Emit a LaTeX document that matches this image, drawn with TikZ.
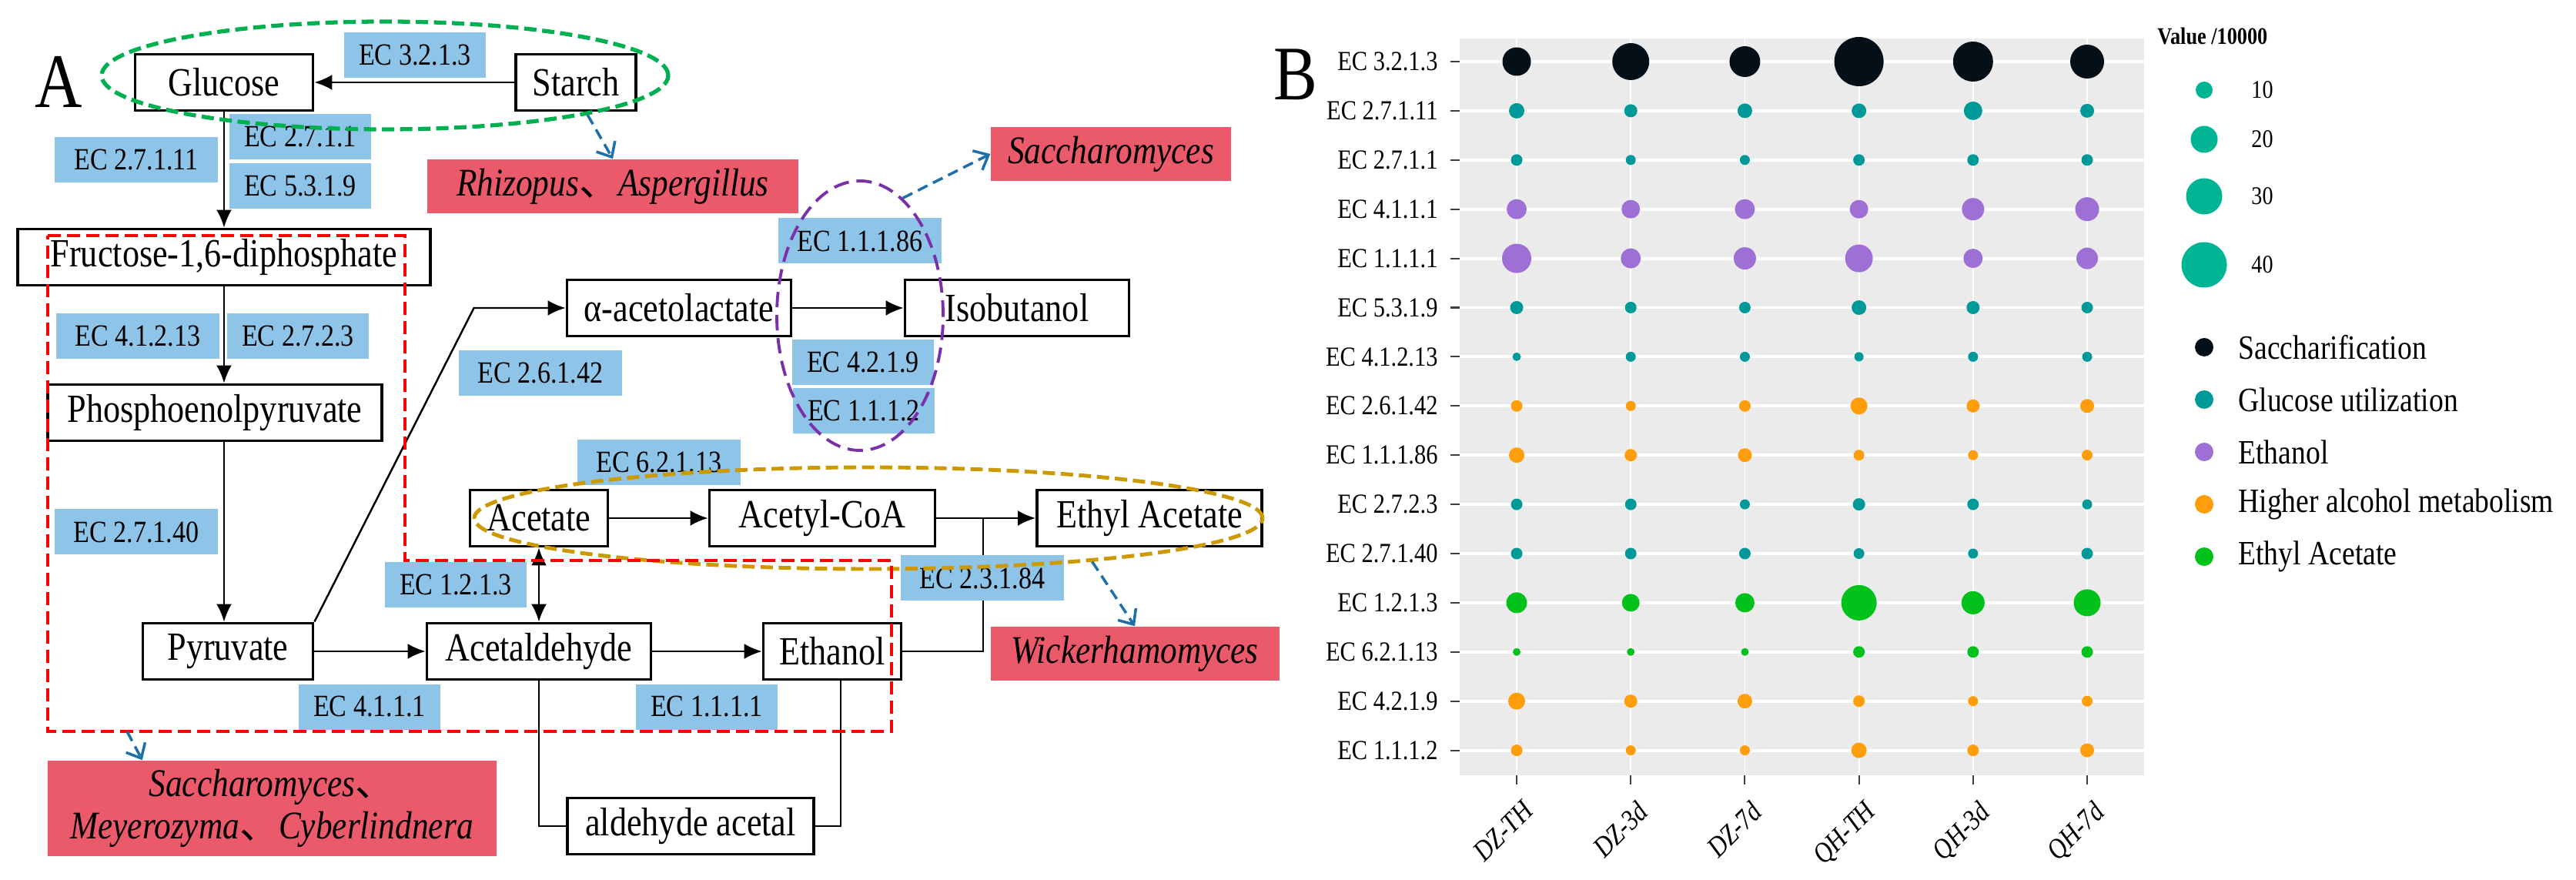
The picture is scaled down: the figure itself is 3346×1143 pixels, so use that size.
\documentclass[tikz,border=0pt]{standalone}
\usepackage{fontspec}
\setmainfont{Liberation Serif}[FakeStretch=0.85]
\newfontfamily\cjk{Noto Sans CJK SC}
\usetikzlibrary{arrows.meta, shapes.geometric}

\definecolor{ecBlue}{HTML}{8EC4E8}
\definecolor{genusRed}{HTML}{EB5A6B}
\definecolor{hintBlue}{HTML}{1F6FA8}
\definecolor{ringGreen}{HTML}{00B050}
\definecolor{ringPurple}{HTML}{7A30A8}
\definecolor{ringOrange}{HTML}{CC9900}
\definecolor{panelGray}{HTML}{EBEBEB}
\definecolor{sacch}{HTML}{050F18}
\definecolor{glucoseUse}{HTML}{00999A}
\definecolor{ethanolUse}{HTML}{9E6FD4}
\definecolor{higherAlcohol}{HTML}{FF9D0A}
\definecolor{ethylAcetateUse}{HTML}{00C21A}
\definecolor{sizeKey}{HTML}{00B494}

\begin{document}
\begin{tikzpicture}[x = 0.1mm, y = -0.1mm, > = {Latex[length = 2.3mm, width = 2mm]}]
\tikzset{
  block/.style = {draw, line width = 1.1pt, fill = white, rectangle, inner sep = 0pt, minimum height = 7.3mm, font = \fontsize{14.8}{16}\selectfont},
  ecTag/.style = {fill = ecBlue, inner sep = 0pt, minimum height = 5.9mm, minimum width = 18.4mm, font = \fontsize{11.4}{12}\selectfont},
  ecTagLong/.style = {ecTag, minimum width = 21.2mm},
  genus/.style = {fill = genusRed, inner sep = 0pt, minimum height = 7mm, align = center, font = \fontsize{14.5}{15.6}\selectfont\itshape},
  link/.style = {line width = 0.7pt},
  ring/.style = {draw, ellipse, inner sep = 0pt, line width = 1.4pt, dash pattern = on 1.6mm off 0.75mm},
  hint/.style = {draw = hintBlue, line width = 1pt, dash pattern = on 1.4mm off 0.8mm, -{Straight Barb[length = 1.6mm, width = 2.8mm]}},
  axisText/.style = {font = \fontsize{10.2}{11}\selectfont},
  keyText/.style = {anchor = west, font = \fontsize{12.6}{14}\selectfont},
}
\useasboundingbox (0,0) rectangle (3346,1143);

% panel A
\node [font = \fontsize{28.5}{30}\selectfont] (panelA) at (76,106) {A};
\node [block, minimum width = 23.1mm] (glucose) at (291,107) {Glucose};
\node [block, minimum width = 15.6mm] (starch) at (748,107) {Starch};
\node [block, minimum width = 53.6mm] (fructoseDiphosphate) at (291,334) {Fructose-1,6-diphosphate};
\node [block, minimum width = 43.4mm] (phosphoenolpyruvate) at (279,536) {Phosphoenolpyruvate};
\node [block, minimum width = 22.1mm] (pyruvate) at (296,846) {Pyruvate};
\node [block, minimum width = 29.1mm] (acetolactate) at (882,400) {α-acetolactate};
\node [block, minimum width = 29.1mm] (isobutanol) at (1321,400) {Isobutanol};
\node [block, minimum width = 17.9mm] (acetate) at (700,673) {Acetate};
\node [block, minimum width = 29.3mm] (acetylCoA) at (1068,673) {Acetyl-CoA};
\node [block, minimum width = 29.2mm] (ethylAcetate) at (1493,673) {Ethyl Acetate};
\node [block, minimum width = 29.1mm] (acetaldehyde) at (700,846) {Acetaldehyde};
\node [block, minimum width = 17.9mm] (ethanol) at (1081,846) {Ethanol};
\node [block, minimum width = 32mm] (aldehydeAcetal) at (897,1073) {aldehyde acetal};

\draw [link, ->] (starch) -- (glucose);
\draw [link, ->] (glucose.south) -- (fructoseDiphosphate.north);
\draw [link, ->] (fructoseDiphosphate.south) -- (fructoseDiphosphate.south |- phosphoenolpyruvate.north);
\draw [link, ->] (fructoseDiphosphate.south |- phosphoenolpyruvate.south) -- (fructoseDiphosphate.south |- pyruvate.north);
\draw [link, ->] (pyruvate.north east) -- ([xshift = -11.9mm]acetolactate.west) -- (acetolactate.west);
\draw [link, ->] (acetolactate) -- (isobutanol);
\draw [link, ->] (acetate) -- (acetylCoA);
\draw [link, ->] (acetylCoA) -- (ethylAcetate);
\draw [link, <->] (acetate.south) -- (acetaldehyde.north);
\draw [link, ->] (pyruvate) -- (acetaldehyde);
\draw [link, ->] (acetaldehyde) -- (ethanol);
\coordinate (esterJoin) at (1277,673);
\draw [link] (ethanol.east) -| (esterJoin);
\draw [link] (acetaldehyde.south) |- (aldehydeAcetal.west);
\draw [link] ([xshift = 1.1mm]ethanol.south) |- (aldehydeAcetal.east);

\node [ecTag] (ec3213) at (539,72) {EC 3.2.1.3};
\node [ecTagLong] (ec27111) at (177,208) {EC 2.7.1.11};
\node [ecTag] (ec2711) at (390,178) {EC 2.7.1.1};
\node [ecTag] (ec5319) at (390,242) {EC 5.3.1.9};
\node [ecTagLong] (ec41213) at (179,437) {EC 4.1.2.13};
\node [ecTag] (ec2723) at (387,437) {EC 2.7.2.3};
\node [ecTagLong] (ec27140) at (177,691) {EC 2.7.1.40};
\node [ecTagLong] (ec26142) at (702,485) {EC 2.6.1.42};
\node [ecTagLong] (ec11186) at (1117,313) {EC 1.1.1.86};
\node [ecTag] (ec4219) at (1121,471) {EC 4.2.1.9};
\node [ecTag] (ec1112) at (1122,534) {EC 1.1.1.2};
\node [ecTagLong] (ec62113) at (856,601) {EC 6.2.1.13};
\node [ecTagLong] (ec23184) at (1276,751) {EC 2.3.1.84};
\node [ecTag] (ec1213) at (592,760) {EC 1.2.1.3};
\node [ecTag] (ec4111) at (480,918) {EC 4.1.1.1};
\node [ecTag] (ec1111) at (918,918) {EC 1.1.1.1};

\node [genus, minimum width = 48.2mm] (rhizopus) at (796,242) {Rhizopus{\cjk 、}Aspergillus};
\node [genus, minimum width = 31.2mm] (saccharomyces) at (1443,200) {Saccharomyces};
\node [genus, minimum width = 37.5mm] (wickerhamomyces) at (1474,849) {Wickerhamomyces};
\node [genus, minimum width = 58.3mm, minimum height = 12.4mm] (yeasts) at (353,1050) {Saccharomyces{\cjk 、}\\Meyerozyma{\cjk 、}Cyberlindnera};

% grouped enzymes
\node [ring, draw = ringGreen, line width = 1.5pt, minimum width = 73.6mm, minimum height = 14mm] (greenRing) at (500,98) {};
\node [ring, draw = ringPurple, line width = 1.1pt, dash pattern = on 2mm off 1mm, minimum width = 21.6mm, minimum height = 35mm] (purpleRing) at (1117,410) {};
\node [ring, draw = ringOrange, minimum width = 102.4mm, minimum height = 13.2mm] (orangeRing) at (1128,673) {};
\draw [red, line width = 1.3pt, dash pattern = on 1.7mm off 0.8mm] (62,306) -- (526,306) -- (526,728) -- (1158,728) -- (1158,950) -- (62,950) -- cycle;
\coordinate (redTip) at (165,950);

\draw [hint] (greenRing.-11) -- (rhizopus.north);
\draw [hint] (purpleRing.70) -- (saccharomyces.west);
\draw [hint] (orangeRing.-11) -- (wickerhamomyces.north);
\draw [hint] (redTip) -- ([xshift = 12.4mm]yeasts.north west);

% panel B
\node [font = \fontsize{28.5}{30}\selectfont] (panelB) at (1683,97) {B};
\fill [panelGray] (1896,50) rectangle (2785,1007);
\foreach \i in {0,...,14}
  \draw [white, line width = 1.1pt] (1896,{80+63.9*\i}) -- (2785,{80+63.9*\i});
\foreach \c in {0,...,5}
  \draw [white, line width = 0.5pt] ({1970+148.2*\c},50) -- ({1970+148.2*\c},1007);

\foreach \lab [count = \i from 0] in {EC 3.2.1.3, EC 2.7.1.11, EC 2.7.1.1, EC 4.1.1.1, EC 1.1.1.1, EC 5.3.1.9, EC 4.1.2.13, EC 2.6.1.42, EC 1.1.1.86, EC 2.7.2.3, EC 2.7.1.40, EC 1.2.1.3, EC 6.2.1.13, EC 4.2.1.9, EC 1.1.1.2} {
  \draw [line width = 0.6pt, black!75] (1884,{80+63.9*\i}) -- (1896,{80+63.9*\i});
  \node [axisText, anchor = east] at (1880,{80+63.9*\i}) {\lab};
}
\foreach \lab [count = \c from 0] in {DZ-TH, DZ-3d, DZ-7d, QH-TH, QH-3d, QH-7d} {
  \draw [line width = 0.6pt, black!75] ({1970+148.2*\c},1007) -- ({1970+148.2*\c},1019);
  \node [axisText, font = \fontsize{10.6}{11}\selectfont\itshape, rotate = 45, anchor = north east] at ({1976+148.2*\c},1021) {\lab};
}

\foreach \tone/\sizes [count = \r from 0] in {
    sacch/{37,48,40,64,52,44},
    glucoseUse/{20,17,19,19,24,18},
    glucoseUse/{15,13,13,15,15,15},
    ethanolUse/{26,24,26,24,29,31},
    ethanolUse/{38,26,29,36,25,28},
    glucoseUse/{17,15,15,19,17,15},
    glucoseUse/{11,13,13,12,13,13},
    higherAlcohol/{15,13,15,22,17,18},
    higherAlcohol/{20,16,18,14,13,14},
    glucoseUse/{15,15,13,16,15,13},
    glucoseUse/{15,15,15,14,13,15},
    ethylAcetateUse/{27,23,25,46,30,35},
    ethylAcetateUse/{10,10,10,15,15,15},
    higherAlcohol/{22,17,19,15,13,14},
    higherAlcohol/{15,13,13,20,15,18}}
  \foreach \d [count = \c from 0] in \sizes
    \fill [\tone] ({1970+148.2*\c},{80+63.9*\r}) circle [radius = {\d*0.05mm}];

% legends
\node [anchor = west, font = \fontsize{8.8}{10}\selectfont\bfseries] (sizeTitle) at (2790,47) {Value /10000};
\foreach \v/\d/\y in {10/22/117, 20/35/181, 30/47/255, 40/59/344} {
  \fill [sizeKey] (2863,\y) circle [radius = {\d*0.05mm}];
  \node [anchor = west, font = \fontsize{9.4}{10}\selectfont] at (2912,\y) {\v};
}
\foreach \tone/\name/\y in {sacch/Saccharification/451, glucoseUse/Glucose utilization/519, ethanolUse/Ethanol/587, higherAlcohol/Higher alcohol metabolism/655, ethylAcetateUse/Ethyl Acetate/723} {
  \fill [\tone] (2863,\y) circle [radius = 1.2mm];
  \node [keyText] at (2895,\y) {\name};
}
\end{tikzpicture}
\end{document}
